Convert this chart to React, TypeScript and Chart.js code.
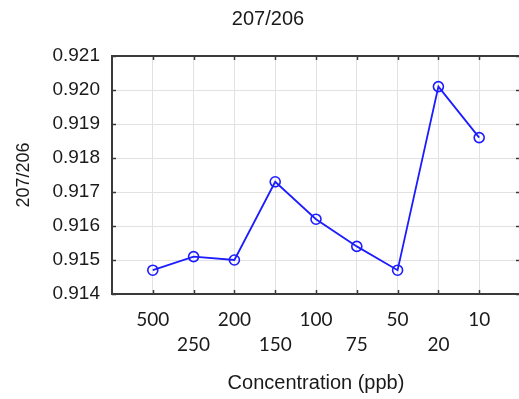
import React, { useEffect, useRef } from 'react';
import { Chart, registerables } from 'chart.js';

Chart.register(...registerables);

const categories = ['500', '250', '200', '150', '100', '75', '50', '20', '10'];
const ratios = [0.9147, 0.9151, 0.915, 0.9173, 0.9162, 0.9154, 0.9147, 0.9201, 0.9186];
const yMin = 0.914;
const yMax = 0.921;
const yStep = 0.001;
const chartTitle = '207/206';
const yTitle = '207/206';
const xTitle = 'Concentration (ppb)';

const frameColor = '#3a3a3a';
const lineColor = 'rgb(28,28,255)';
const textColor = '#1a1a1a';

const framePlugin = {
  id: 'frame',
  afterDraw(chart: any) {
    const { ctx, chartArea: a, scales } = chart;
    ctx.save();
    ctx.strokeStyle = frameColor;
    ctx.lineWidth = 1.5;
    ctx.beginPath();
    scales.x.ticks.forEach((t: any) => {
      if (t.value <= 0 || t.value >= categories.length + 1) return;
      const px = Math.round(scales.x.getPixelForValue(t.value)) + 0.5;
      ctx.moveTo(px, a.top);
      ctx.lineTo(px, a.top + 4);
      ctx.moveTo(px, a.bottom);
      ctx.lineTo(px, a.bottom - 4);
    });
    scales.y.ticks.forEach((t: any) => {
      const py = Math.round(scales.y.getPixelForValue(t.value)) + 0.5;
      ctx.moveTo(a.left, py);
      ctx.lineTo(a.left + 4, py);
      ctx.moveTo(a.right, py);
      ctx.lineTo(a.right - 4, py);
    });
    ctx.stroke();
    ctx.lineWidth = 2;
    ctx.strokeRect(a.left, a.top, a.right - a.left, a.bottom - a.top);
    ctx.fillStyle = textColor;
    ctx.font = '20px "Liberation Sans", Arial, sans-serif';
    ctx.textAlign = 'center';
    ctx.textBaseline = 'middle';
    ctx.fillText(chartTitle, 268, 19);
    ctx.restore();
  },
};

export default function App() {
  const canvasRef = useRef<HTMLCanvasElement | null>(null);

  useEffect(() => {
    if (!canvasRef.current) return;
    const points = ratios.map((v, i) => ({ x: i + 1, y: v }));
    const chart = new Chart(canvasRef.current, {
      type: 'line',
      data: {
        datasets: [
          {
            data: points,
            borderColor: lineColor,
            borderWidth: 1.8,
            pointRadius: 5,
            pointHoverRadius: 5,
            pointBorderWidth: 1.6,
            pointBorderColor: lineColor,
            pointBackgroundColor: 'rgba(0,0,0,0)',
            tension: 0,
            fill: false,
          },
        ],
      },
      options: {
        animation: false,
        responsive: false,
        devicePixelRatio: 1,
        layout: { autoPadding: false, padding: { left: 0, right: 1, top: 56, bottom: 0 } },
        plugins: {
          legend: { display: false },
          title: { display: false },
          tooltip: { enabled: false },
        },
        scales: {
          x: {
            type: 'linear',
            min: 0,
            max: categories.length + 1,
            border: { display: false },
            grid: {
              color: '#e2e2e2',
              lineWidth: 1,
              drawTicks: true,
              tickLength: 13.5,
              tickColor: 'rgba(0,0,0,0)',
            },
            afterFit(scale: any) {
              scale.height = 105;
            },
            ticks: {
              stepSize: 1,
              autoSkip: false,
              maxRotation: 0,
              minRotation: 0,
              padding: 0,
              color: textColor,
              font: { family: 'Lato, "Liberation Sans", sans-serif', size: 19, lineHeight: 1.3 },
              callback(value: any) {
                const i = Number(value) - 1;
                if (i < 0 || i >= categories.length) return '';
                return i % 2 === 0 ? [categories[i], ''] : ['', categories[i]];
              },
            },
            title: {
              display: true,
              text: xTitle,
              color: textColor,
              font: { family: '"Liberation Sans", Arial, sans-serif', size: 20, lineHeight: 1.2 },
              padding: { top: 0, bottom: 4 },
            },
          },
          y: {
            min: yMin,
            max: yMax,
            border: { display: false },
            grid: { color: '#e2e2e2', lineWidth: 1, drawTicks: false },
            afterFit(scale: any) {
              scale.width = 112;
            },
            ticks: {
              stepSize: yStep,
              padding: 12,
              color: textColor,
              font: { family: '"Liberation Sans", Arial, sans-serif', size: 19 },
              callback(value: any) {
                return Number(value).toFixed(3);
              },
            },
            title: {
              display: true,
              text: yTitle,
              color: textColor,
              font: { family: '"Liberation Sans", Arial, sans-serif', size: 18, lineHeight: 1.2 },
              padding: { top: 13, bottom: 0 },
            },
          },
        },
      },
      plugins: [framePlugin],
    });
    return () => chart.destroy();
  }, []);

  return (
    <div
      style={{
        position: 'fixed',
        left: 0,
        top: 0,
        width: 519,
        height: 399,
        overflow: 'hidden',
        background: '#ffffff',
      }}
    >
      <canvas ref={canvasRef} width={521} height={399} style={{ display: 'block' }} />
    </div>
  );
}
